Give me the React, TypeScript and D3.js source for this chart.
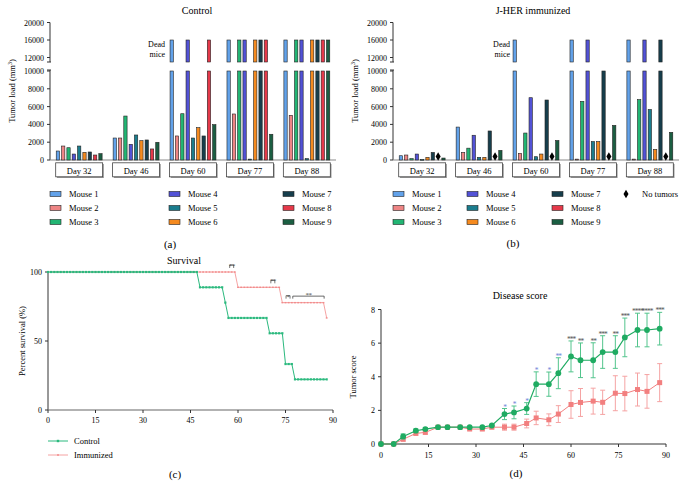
import * as d3 from 'd3'

// ---------- data ----------
const days = ['Day 32', 'Day 46', 'Day 60', 'Day 77', 'Day 88']
const mice = ['Mouse 1', 'Mouse 2', 'Mouse 3', 'Mouse 4', 'Mouse 5', 'Mouse 6', 'Mouse 7', 'Mouse 8', 'Mouse 9']
const mouseColors = ['#62a2ea', '#ee8585', '#22b573', '#5252d6', '#1b7d8e', '#f58a1f', '#163e4c', '#e5394a', '#1b5e42']

const DEAD = -1
const NONE = -2 // no tumor

// rows: days, columns: mice (mm3)
const controlLoad = [
  [1010, 1570, 1380, 670, 1570, 860, 900, 560, 710],
  [2470, 2470, 4940, 1760, 2810, 2170, 2250, 1240, 1990],
  [DEAD, 2700, 5200, DEAD, 2470, 3630, 2700, DEAD, 3970],
  [DEAD, 5170, DEAD, DEAD, 100, DEAD, DEAD, DEAD, 2890],
  [DEAD, 5020, DEAD, DEAD, 150, DEAD, DEAD, DEAD, DEAD],
]
const immunizedLoad = [
  [480, 560, 150, 670, 60, 300, 850, NONE, 220],
  [3700, 850, 1330, 2780, 300, 300, 3260, NONE, 1080],
  [DEAD, 740, 3030, 7000, 370, 670, 6740, NONE, 2190],
  [DEAD, 100, 6590, DEAD, 2070, 2070, 10000, NONE, 3890],
  [DEAD, 100, 6780, DEAD, 5670, 1190, DEAD, NONE, 3110],
]
const lowerTicks = [0, 2000, 4000, 6000, 8000, 10000]
const upperTicks = [12000, 16000, 20000]
const deadValue = 16000

// survival, daily from day 0: [percent, number of days]
const controlSurvivalRuns = [[100, 48], [88.9, 8], [77.8, 1], [66.7, 13], [55.6, 5], [33.3, 3], [22.2, 11]]
const immunizedSurvivalRuns = [[100, 60], [88.9, 14], [77.8, 14], [66.7, 1]]
const survivalMarks = [
  { day: 58, value: 100, label: '**' },
  { day: 71, value: 88.9, label: '**' },
  { day: 75.8, value: 77.8, label: '*' },
]
const survivalBracket = { from: 77.3, to: 87.2, value: 77.8, label: '**' }
const dayTicks = [0, 15, 30, 45, 60, 75, 90]

// disease score
const scoreDays = [0, 4, 7, 11, 14, 18, 21, 25, 28, 32, 35, 39, 42, 46, 49, 53, 56, 60, 63, 67, 70, 74, 77, 81, 84, 88]
const controlScore = [0, 0, 0.45, 0.79, 0.89, 1, 1, 1, 1, 1, 1.1, 1.78, 1.88, 2.11, 3.56, 3.56, 4.21, 5.21, 4.98, 4.98, 5.47, 5.47, 6.34, 6.78, 6.78, 6.86]
const controlErr = [0, 0, 0.15, 0.1, 0.08, 0, 0, 0, 0, 0, 0.05, 0.33, 0.38, 0.35, 0.73, 0.72, 0.92, 0.92, 1.03, 1.04, 0.97, 0.97, 1.15, 1.0, 1.0, 0.97]
const immunizedScore = [0, 0, 0.28, 0.63, 0.69, 1, 1, 1, 0.89, 0.89, 1, 1, 1, 1.22, 1.55, 1.44, 1.78, 2.35, 2.47, 2.55, 2.48, 3.02, 3.0, 3.24, 3.13, 3.65]
const immunizedErr = [0, 0, 0.1, 0.1, 0.1, 0, 0, 0, 0.05, 0.05, 0.1, 0.18, 0.18, 0.26, 0.4, 0.35, 0.5, 0.82, 0.83, 0.77, 0.72, 1.04, 1.03, 0.98, 1.0, 1.13]
const scoreStars = ['', '', '', '', '', '', '', '', '', '', '', '*', '*', '*', '*', '*', '**', '***', '**', '**', '***', '**', '***', '****', '****', '***']
const scoreTicks = [0, 2, 4, 6, 8]

const FONT = '"Liberation Serif", "DejaVu Serif", serif'
const AXIS = '#333'

// ---------- bar panel ----------
type BarProps = {
  title: string
  titleX: number
  data: number[][]
  axisX: number
  rightX: number
  deadLabelX: number
  legendX: number[]
  noTumorX?: number
}

const BarPanel = ({ title, titleX, data, axisX, rightX, deadLabelX, legendX, noTumorX }: BarProps) => {
  const lower = d3.scaleLinear().domain([0, 10000]).range([160, 71])
  const upper = d3.scaleLinear().domain([12000, 20000]).range([57.5, 22.5])
  const upperBottom = 62
  const group = d3.scaleBand<string>().domain(days).range([axisX, rightX]).paddingInner(0.175).paddingOuter(0.1)
  const bar = d3.scaleBand<string>().domain(mice).range([0, group.bandwidth()]).paddingInner(0.38).paddingOuter(0.1)
  const bw = bar.bandwidth()
  const diamond = d3.symbol(d3.symbolDiamond, 22)()

  return (
    <g>
      <text x={titleX} y={14} fontSize={10} textAnchor="middle">{title}</text>
      {/* y axis, broken */}
      <line x1={axisX} x2={axisX} y1={upper(20000)} y2={upperBottom} stroke={AXIS} />
      <line x1={axisX - 3} x2={axisX + 1} y1={upperBottom} y2={upperBottom} stroke={AXIS} />
      <line x1={axisX} x2={axisX} y1={lower(10000) - 1} y2={lower(0)} stroke={AXIS} />
      <line x1={axisX - 3} x2={axisX + 1} y1={lower(10000) - 1} y2={lower(10000) - 1} stroke={AXIS} />
      {upperTicks.map(t => (
        <g key={t}>
          <line x1={axisX - 3} x2={axisX} y1={upper(t)} y2={upper(t)} stroke={AXIS} />
          <text x={axisX - 6} y={upper(t) + 3} fontSize={8} textAnchor="end">{t}</text>
        </g>
      ))}
      {lowerTicks.map(t => (
        <g key={t}>
          <line x1={axisX - 3} x2={axisX} y1={lower(t)} y2={lower(t)} stroke={AXIS} />
          <text x={axisX - 6} y={lower(t) + 3} fontSize={8} textAnchor="end">{t}</text>
        </g>
      ))}
      <text transform={`translate(${axisX - 35},91) rotate(-90)`} fontSize={8.5} textAnchor="middle">
        Tumor load (mm<tspan fontSize={6} dy={-3}>3</tspan><tspan dy={3}>)</tspan>
      </text>
      <line x1={axisX} x2={rightX} y1={lower(0)} y2={lower(0)} stroke="#888" />
      {/* bars */}
      {data.map((row, di) => {
        const gx = group(days[di]) as number
        return row.map((v, mi) => {
          const x = gx + (bar(mice[mi]) as number)
          const c = mouseColors[mi]
          if (v === NONE) {
            return <path key={mi} d={diamond as string} transform={`translate(${x + bw / 2},${lower(0) - 3.5})`} fill="#000" />
          }
          if (v === DEAD) {
            return (
              <g key={mi}>
                <rect x={x} y={upper(deadValue)} width={bw} height={upperBottom - upper(deadValue)} fill={c} stroke="#222" strokeWidth={0.6} />
                <rect x={x} y={lower(10000)} width={bw} height={lower(0) - lower(10000)} fill={c} stroke="#222" strokeWidth={0.6} />
              </g>
            )
          }
          const y = lower(v)
          return <rect key={mi} x={x} y={y} width={bw} height={Math.max(0.8, lower(0) - y)} fill={c} stroke="#222" strokeWidth={0.6} />
        })
      })}
      <text x={deadLabelX} y={47} fontSize={8} textAnchor="end">Dead</text>
      <text x={deadLabelX} y={57} fontSize={8} textAnchor="end">mice</text>
      {/* category boxes */}
      {days.map(d => {
        const gx = group(d) as number
        return (
          <g key={d}>
            <rect x={gx + 1.2} y={164} width={group.bandwidth()} height={14} fill="#999" />
            <rect x={gx} y={162.8} width={group.bandwidth()} height={14} fill="#fff" stroke="#444" strokeWidth={0.8} />
            <text x={gx + group.bandwidth() / 2} y={173.5} fontSize={8.5} textAnchor="middle">{d}</text>
          </g>
        )
      })}
      {/* legend */}
      {mice.map((m, i) => {
        const col = Math.floor(i / 3)
        const row = i % 3
        const y = 194 + row * 14
        return (
          <g key={m}>
            <rect x={legendX[col]} y={y - 2.5} width={11} height={5} fill={mouseColors[i]} stroke="#222" strokeWidth={0.6} />
            <text x={legendX[col] + 19} y={y + 3} fontSize={8.5}>{m}</text>
          </g>
        )
      })}
      {noTumorX !== undefined && (
        <g>
          <path d={diamond as string} transform={`translate(${noTumorX},194)`} fill="#000" />
          <text x={noTumorX + 16} y={197} fontSize={8.5}>No tumors</text>
        </g>
      )}
    </g>
  )
}

const expandRuns = (runs: number[][]) => {
  const out: [number, number][] = []
  runs.forEach(([v, n]) => {
    for (let k = 0; k < n; k++) out.push([out.length, v])
  })
  return out
}

// ---------- survival ----------
const SurvivalPanel = () => {
  const x = d3.scaleLinear().domain([0, 90]).range([48, 333])
  const y = d3.scaleLinear().domain([0, 100]).range([410, 272])
  const line = d3.line<[number, number]>().x(d => x(d[0])).y(d => y(d[1]))
  const ctrl = expandRuns(controlSurvivalRuns)
  const imm = expandRuns(immunizedSurvivalRuns)
  const green = '#2bb97e'
  const pink = '#f28b8b'
  const bracket = (cx: number, cy: number) => `M${cx - 2},${cy + 2}V${cy - 1}H${cx + 2}V${cy + 2}`
  return (
    <g>
      <text x={184} y={264} fontSize={10} textAnchor="middle">Survival</text>
      <line x1={x(0)} x2={x(0)} y1={y(100)} y2={y(0)} stroke={AXIS} />
      <line x1={x(0)} x2={x(90)} y1={y(0)} y2={y(0)} stroke="#666" strokeWidth={1.2} />
      {[0, 50, 100].map(t => (
        <g key={t}>
          <line x1={x(0) - 3} x2={x(0)} y1={y(t)} y2={y(t)} stroke={AXIS} />
          <text x={x(0) - 6} y={y(t) + 3} fontSize={8} textAnchor="end">{t}</text>
        </g>
      ))}
      {dayTicks.map(t => (
        <g key={t}>
          <line x1={x(t)} x2={x(t)} y1={y(0)} y2={y(0) + 3} stroke={AXIS} />
          <text x={x(t)} y={y(0) + 13} fontSize={8} textAnchor="middle">{t}</text>
        </g>
      ))}
      <text transform="translate(25,341) rotate(-90)" fontSize={8.5} textAnchor="middle">Percent survival (%)</text>
      <path d={line(imm) as string} fill="none" stroke={pink} strokeWidth={0.8} />
      {imm.map(d => <rect key={d[0]} x={x(d[0]) - 0.9} y={y(d[1]) - 0.7} width={1.8} height={1.4} fill={pink} />)}
      <path d={line(ctrl) as string} fill="none" stroke={green} strokeWidth={1} />
      {ctrl.map(d => <rect key={d[0]} x={x(d[0]) - 1.1} y={y(d[1]) - 1.1} width={2.2} height={2.2} fill={green} />)}
      {survivalMarks.map((m, i) => (
        <g key={i}>
          <text x={x(m.day)} y={y(m.value) - 4} fontSize={7} textAnchor="middle" fill="#444" letterSpacing={-0.6}>{m.label}</text>
          <path d={bracket(x(m.day), y(m.value) - 6)} fill="none" stroke="#444" strokeWidth={0.7} />
        </g>
      ))}
      <path
        d={`M${x(survivalBracket.from)},${y(survivalBracket.value) - 4}V${y(survivalBracket.value) - 6.5}H${x(survivalBracket.to)}V${y(survivalBracket.value) - 4}`}
        fill="none" stroke="#444" strokeWidth={0.8}
      />
      <text x={(x(survivalBracket.from) + x(survivalBracket.to)) / 2} y={y(survivalBracket.value) - 5.5} fontSize={7} textAnchor="middle" fill="#444" letterSpacing={-0.6}>{survivalBracket.label}</text>
      {/* legend */}
      <line x1={48} x2={68} y1={441} y2={441} stroke={green} />
      <rect x={56.8} y={439.8} width={2.4} height={2.4} fill={green} />
      <text x={74} y={444} fontSize={8.5}>Control</text>
      <line x1={48} x2={68} y1={455} y2={455} stroke={pink} strokeWidth={0.8} />
      <rect x={57} y={454.3} width={2} height={1.4} fill={pink} />
      <text x={74} y={458} fontSize={8.5}>Immunized</text>
    </g>
  )
}

// ---------- disease score ----------
const ScorePanel = () => {
  const x = d3.scaleLinear().domain([0, 90]).range([381, 666])
  const y = d3.scaleLinear().domain([0, 8]).range([444, 309.5])
  const green = '#1fab62'
  const pink = '#f27f7f'
  const line = d3.line<number>().x((_, i) => x(scoreDays[i])).y(d => y(d))
  const errBars = (vals: number[], errs: number[], color: string) =>
    vals.map((v, i) => errs[i] > 0 && (
      <g key={i} stroke={color} strokeWidth={1}>
        <line x1={x(scoreDays[i])} x2={x(scoreDays[i])} y1={y(v - errs[i])} y2={y(v + errs[i])} />
        <line x1={x(scoreDays[i]) - 2.5} x2={x(scoreDays[i]) + 2.5} y1={y(v + errs[i])} y2={y(v + errs[i])} />
        <line x1={x(scoreDays[i]) - 2.5} x2={x(scoreDays[i]) + 2.5} y1={y(v - errs[i])} y2={y(v - errs[i])} />
      </g>
    ))
  return (
    <g>
      <text x={520} y={299} fontSize={10} textAnchor="middle">Disease score</text>
      <line x1={x(0)} x2={x(0)} y1={y(8)} y2={y(0)} stroke={AXIS} />
      <line x1={x(0)} x2={x(90)} y1={y(0)} y2={y(0)} stroke={AXIS} />
      {scoreTicks.map(t => (
        <g key={t}>
          <line x1={x(0) - 3} x2={x(0)} y1={y(t)} y2={y(t)} stroke={AXIS} />
          <text x={x(0) - 6} y={y(t) + 3} fontSize={8} textAnchor="end">{t}</text>
        </g>
      ))}
      {dayTicks.map(t => (
        <g key={t}>
          <line x1={x(t)} x2={x(t)} y1={y(0)} y2={y(0) + 3} stroke={AXIS} />
          <text x={x(t)} y={y(0) + 14} fontSize={8} textAnchor="middle">{t}</text>
        </g>
      ))}
      <text transform="translate(356,377) rotate(-90)" fontSize={8.5} textAnchor="middle">Tumor score</text>
      {errBars(immunizedScore, immunizedErr, '#f5a3a3')}
      <path d={line(immunizedScore) as string} fill="none" stroke={pink} strokeWidth={1} />
      {immunizedScore.map((v, i) => <rect key={i} x={x(scoreDays[i]) - 2.5} y={y(v) - 2.5} width={5} height={5} fill={pink} />)}
      {errBars(controlScore, controlErr, '#52c48c')}
      <path d={line(controlScore) as string} fill="none" stroke={green} strokeWidth={1.2} />
      {controlScore.map((v, i) => <circle key={i} cx={x(scoreDays[i])} cy={y(v)} r={2.9} fill={green} />)}
      {scoreStars.map((s, i) => s && (
        <text key={i} x={x(scoreDays[i])} y={y(controlScore[i] + controlErr[i]) + 1} fontSize={7.5} textAnchor="middle"
          letterSpacing={-1} fill={scoreDays[i] < 58 ? '#6f86d8' : '#555'}>{s}</text>
      ))}
    </g>
  )
}

export default function App() {
  return (
    <svg width={686} height={497} style={{ position: 'absolute', left: 0, top: 0, background: '#fff' }} fontFamily={FONT}>
      <BarPanel title="Control" titleX={197} data={controlLoad} axisX={50} rightX={336} deadLabelX={165} legendX={[50, 169, 283]} />
      <BarPanel title="J-HER immunized" titleX={533} data={immunizedLoad} axisX={393} rightX={679} deadLabelX={510} legendX={[393, 467, 552]} noTumorX={626} />
      <text x={170} y={248} fontSize={11} textAnchor="middle">(a)</text>
      <text x={513} y={247} fontSize={11} textAnchor="middle">(b)</text>
      <SurvivalPanel />
      <ScorePanel />
      <text x={175} y={478} fontSize={11} textAnchor="middle">(c)</text>
      <text x={516} y={477} fontSize={11} textAnchor="middle">(d)</text>
    </svg>
  )
}
